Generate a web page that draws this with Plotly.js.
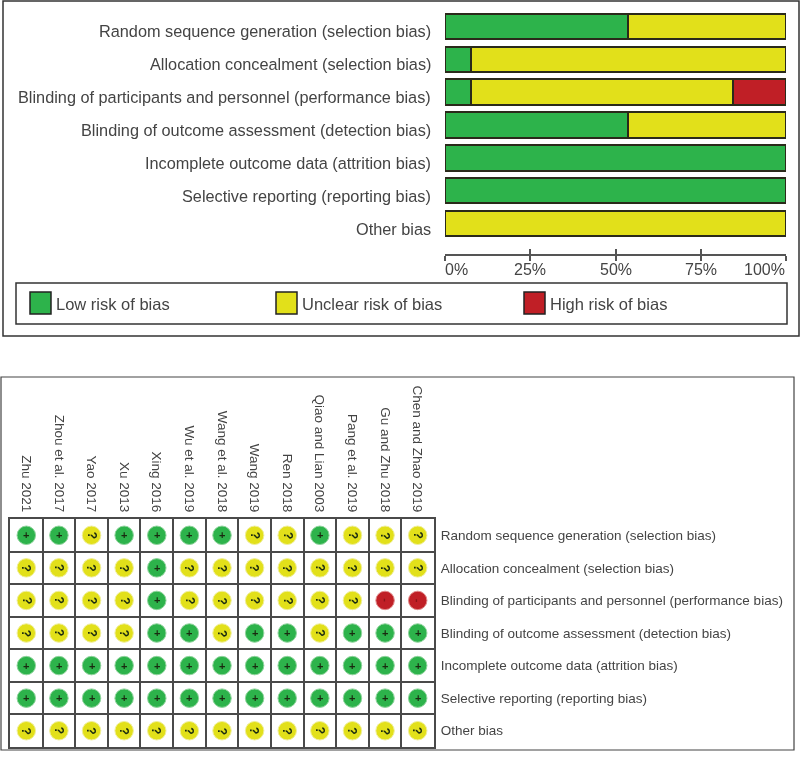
<!DOCTYPE html>
<html><head><meta charset="utf-8">
<script src="https://cdn.plot.ly/plotly-3.0.1.min.js"></script>
<style>html,body{margin:0;padding:0;background:#fff}#c{width:800px;height:758px;filter:blur(0.4px)}</style>
</head><body><div id="c"></div>
<script>
const domains = ["Random sequence generation (selection bias)","Allocation concealment (selection bias)","Blinding of participants and personnel (performance bias)","Blinding of outcome assessment (detection bias)","Incomplete outcome data (attrition bias)","Selective reporting (reporting bias)","Other bias"];
const studies = ["Zhu 2021","Zhou et al. 2017","Yao 2017","Xu 2013","Xing 2016","Wu et al. 2019","Wang et al. 2018","Wang 2019","Ren 2018","Qiao and Lian 2003","Pang et al. 2019","Gu and Zhu 2018","Chen and Zhao 2019"];
const lowPct = [53.8,7.7,7.7,53.8,100,100,0];
const unclearPct = [46.2,92.3,76.9,46.2,0,0,100];
const highPct = [0,0,15.4,0,0,0,0];
const axisTicks = [0,25,50,75,100];
const axisLabels = ["0%","25%","50%","75%","100%"];
const riskNames = ["Low risk of bias","Unclear risk of bias","High risk of bias"];
const riskColors = ["#2db34b","#e2e01a","#c01f26"];
const judgements = [
 "LLULLLLUULUUU",
 "UUUULUUUUUUUU",
 "UUUULUUUUUUHH",
 "UUUULLULLULLL",
 "LLLLLLLLLLLLL",
 "LLLLLLLLLLLLL",
 "UUUUUUUUUUUUU"];

const W=800,H=758,font="Liberation Sans, Arial, sans-serif",ink="#444",gridInk="#4a4a4a";
const px=v=>v/W, py=v=>1-v/H;
const bar=(name,vals,col)=>({type:'bar',orientation:'h',name,y:domains,x:vals,xaxis:'x',yaxis:'y',
  marker:{color:col,line:{color:'#2a2a1a',width:2}},hoverinfo:'name+x'});
const traces=[bar(riskNames[0],lowPct,riskColors[0]),bar(riskNames[1],unclearPct,riskColors[1]),bar(riskNames[2],highPct,riskColors[2]),
  {type:'scatter',mode:'none',x:[],y:[],xaxis:'x3',yaxis:'y',showlegend:false,hoverinfo:'skip'}];

const codes=['L','U','H'],halo=['#8fd49c','#f0ef9a','#e08a8a'],sym=['+','?','-'],symAngle=[0,90,90];
const anns=[];
domains.forEach(d=>anns.push({xref:'paper',yref:'y',x:px(433),y:d,yshift:-5,text:d,showarrow:false,xanchor:'right',yanchor:'middle',
  font:{family:font,size:16.3,color:ink}}));
codes.forEach((c,k)=>{
  const xs=[],ys=[];
  judgements.forEach((r,i)=>[...r].forEach((v,j)=>{if(v===c){xs.push(studies[j]);ys.push(domains[i]);
    anns.push({xref:'x2',yref:'y2',x:studies[j],y:domains[i],text:sym[k],showarrow:false,textangle:symAngle[k],
      font:{family:font,size:k===1?12:11,color:k===2?'#8a1418':'#1a2a10',weight:'bold'},xanchor:'center',yanchor:'middle'});}}));
  traces.push({type:'scatter',mode:'markers',name:riskNames[k],x:xs,y:ys,xaxis:'x2',yaxis:'y2',
    marker:{symbol:'circle',size:18.5,color:riskColors[k],line:{color:halo[k],width:1}},hoverinfo:'x+y+name'});
});
axisTicks.forEach((t,i)=>anns.push({xref:'x',yref:'paper',x:t,y:py(269),text:axisLabels[i],showarrow:false,
  xanchor:i===0?'left':(i===4?'right':'center'),xshift:i===0?-2:(i===4?1:0),yanchor:'middle',font:{family:font,size:16,color:ink}}));
const legendX=[30,276,524];
const shapes=[
 {type:'rect',xref:'paper',yref:'paper',x0:px(3),x1:px(799),y0:py(1),y1:py(336),line:{color:'#333',width:1.5}},
 {type:'rect',xref:'paper',yref:'paper',x0:px(16),x1:px(787),y0:py(283),y1:py(324),line:{color:'#333',width:1.5}},
 {type:'rect',xref:'paper',yref:'paper',x0:px(1),x1:px(794),y0:py(377),y1:py(750),line:{color:'#444',width:1.2}}];
legendX.forEach((x,i)=>{
  shapes.push({type:'rect',xref:'paper',yref:'paper',x0:px(x),x1:px(x+21),y0:py(292),y1:py(314),fillcolor:riskColors[i],line:{color:'#222',width:1.5}});
  anns.push({xref:'paper',yref:'paper',x:px(x+24),y:py(304),text:riskNames[i],showarrow:false,xanchor:'left',yanchor:'middle',font:{family:font,size:16.5,color:ink}});
});

const layout={width:W,height:H,margin:{l:0,r:0,t:0,b:0,pad:0},paper_bgcolor:'#fff',plot_bgcolor:'rgba(0,0,0,0)',showlegend:false,
  barmode:'stack',bargap:0.23,font:{family:font,color:ink},shapes,annotations:anns,
  xaxis:{domain:[px(445),px(786)],range:[0,100],anchor:'free',position:py(255),showgrid:false,zeroline:false,showline:true,linecolor:'#555',linewidth:2,
    tickmode:'array',tickvals:axisTicks,ticktext:axisLabels,showticklabels:false,ticks:'outside',ticklen:5,tickwidth:2,tickcolor:'#555'},
  xaxis3:{matches:'x',overlaying:'x',anchor:'free',position:py(255),side:'bottom',showgrid:false,zeroline:false,showline:false,
    tickmode:'array',tickvals:axisTicks,showticklabels:false,ticks:'inside',ticklen:6,tickwidth:2,tickcolor:'#555'},
  yaxis:{domain:[py(240),py(10)],type:'category',categoryorder:'array',categoryarray:domains,autorange:'reversed',showgrid:false,zeroline:false,showline:false,
    showticklabels:false,ticks:''},
  xaxis2:{domain:[px(10),px(434)],type:'category',categoryorder:'array',categoryarray:studies,side:'top',anchor:'y2',range:[-0.5,12.5],
    tickson:'boundaries',showgrid:true,gridcolor:gridInk,gridwidth:2,showline:true,mirror:true,linecolor:gridInk,linewidth:2,zeroline:false,
    tickangle:90,ticks:'outside',ticklen:5,tickcolor:'rgba(0,0,0,0)',tickfont:{family:font,size:13.5,color:ink}},
  yaxis2:{domain:[py(747),py(519)],type:'category',categoryorder:'array',categoryarray:domains,side:'right',anchor:'x2',range:[6.5,-0.5],
    tickson:'boundaries',showgrid:true,gridcolor:gridInk,gridwidth:2,showline:true,mirror:true,linecolor:gridInk,linewidth:2,zeroline:false,
    ticks:'outside',ticklen:5,ticklabelstandoff:2,tickcolor:'rgba(0,0,0,0)',tickfont:{family:font,size:13.5,color:ink}}
};
Plotly.newPlot('c',traces,layout,{displayModeBar:false,staticPlot:true});
</script></body></html>
